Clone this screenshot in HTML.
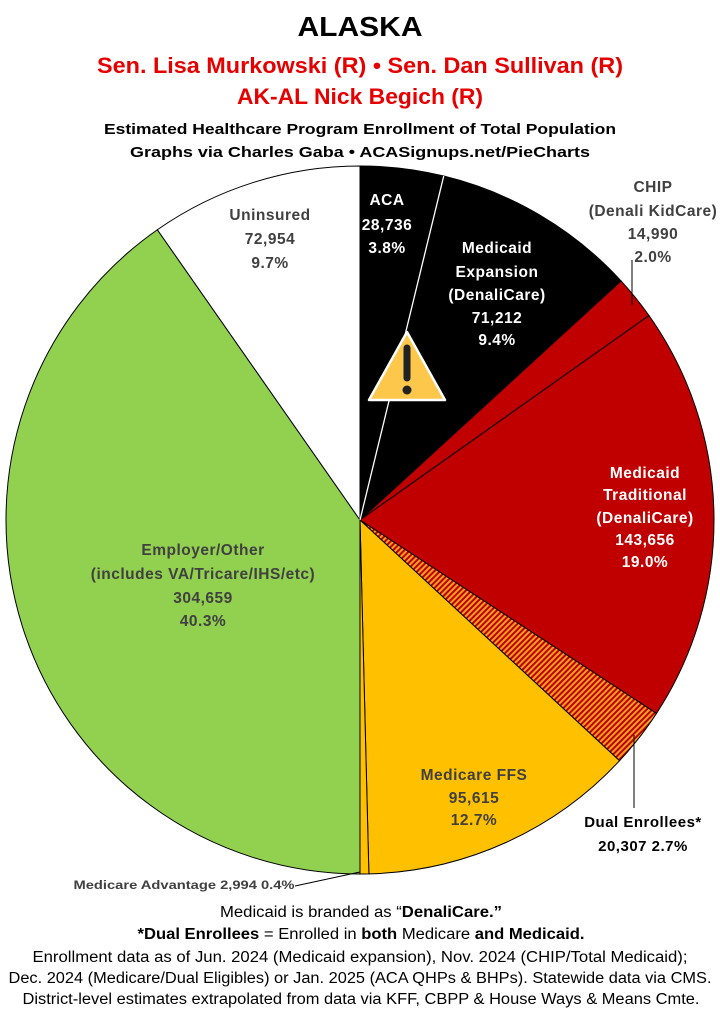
<!DOCTYPE html>
<html><head><meta charset="utf-8"><style>
html,body{margin:0;padding:0;background:#fff}
svg{display:block}
text{font-family:"Liberation Sans",sans-serif;font-weight:bold}
.l text{letter-spacing:0.5px}
</style></head><body>
<svg id="s" width="720" height="1010" viewBox="0 0 720 1010" xmlns="http://www.w3.org/2000/svg">
<defs>
<pattern id="h" patternUnits="userSpaceOnUse" width="4" height="4" patternTransform="rotate(45)">
<rect width="4" height="4" fill="#c00000"/><rect width="2" height="4" fill="#f5a020"/>
</pattern>
</defs>
<g id="pie"></g>
<g text-anchor="middle">
<text x="360" y="36" font-size="28" fill="#000" textLength="125" lengthAdjust="spacingAndGlyphs">ALASKA</text>
<text x="360" y="73" font-size="22" fill="#e60000" textLength="526" lengthAdjust="spacingAndGlyphs">Sen. Lisa Murkowski (R) • Sen. Dan Sullivan (R)</text>
<text x="360" y="104" font-size="22" fill="#e60000" textLength="246" lengthAdjust="spacingAndGlyphs">AK-AL Nick Begich (R)</text>
<text x="360" y="134" font-size="15" fill="#000" textLength="512" lengthAdjust="spacingAndGlyphs">Estimated Healthcare Program Enrollment of Total Population</text>
<text x="360" y="157" font-size="15" fill="#000" textLength="460" lengthAdjust="spacingAndGlyphs">Graphs via Charles Gaba  •  ACASignups.net/PieCharts</text>

<g class="l" font-size="15.5" fill="#404040">
<text x="270" y="220">Uninsured</text><text x="270" y="244">72,954</text><text x="270" y="268">9.7%</text>
<text x="653" y="192">CHIP</text><text x="653" y="216">(Denali KidCare)</text><text x="653" y="239">14,990</text><text x="653" y="262">2.0%</text>
<text x="203" y="555">Employer/Other</text><text x="203" y="579">(includes VA/Tricare/IHS/etc)</text><text x="203" y="603">304,659</text><text x="203" y="626">40.3%</text>
<text x="474" y="780">Medicare FFS</text><text x="474" y="803">95,615</text><text x="474" y="825">12.7%</text>
</g>
<g class="l" font-size="15.5" fill="#fff">
<text x="387" y="205">ACA</text><text x="387" y="230">28,736</text><text x="387" y="253">3.8%</text>
<text x="497" y="253">Medicaid</text><text x="497" y="277">Expansion</text><text x="497" y="300">(DenaliCare)</text><text x="497" y="323">71,212</text><text x="497" y="345">9.4%</text>
<text x="645" y="478">Medicaid</text><text x="645" y="500">Traditional</text><text x="645" y="523">(DenaliCare)</text><text x="645" y="545">143,656</text><text x="645" y="567">19.0%</text>
</g>
<g class="l" font-size="15" fill="#000">
<text x="643" y="827">Dual Enrollees*</text><text x="643" y="851">20,307 2.7%</text>
</g>
<text x="184" y="889" font-size="12" fill="#404040" textLength="221" lengthAdjust="spacingAndGlyphs">Medicare Advantage 2,994 0.4%</text>
<g font-size="15.5" fill="#000">
<text x="361" y="917" style="font-weight:normal" textLength="282" lengthAdjust="spacingAndGlyphs">Medicaid is branded as “<tspan font-weight="bold">DenaliCare.”</tspan></text>
<text x="361" y="939" style="font-weight:normal" textLength="447" lengthAdjust="spacingAndGlyphs"><tspan font-weight="bold">*Dual Enrollees</tspan> = Enrolled in <tspan font-weight="bold">both</tspan> Medicare <tspan font-weight="bold">and Medicaid.</tspan></text>
<text x="360" y="962" style="font-weight:normal" textLength="655" lengthAdjust="spacingAndGlyphs">Enrollment data as of Jun. 2024 (Medicaid expansion), Nov. 2024 (CHIP/Total Medicaid);</text>
<text x="360" y="983" style="font-weight:normal" textLength="703" lengthAdjust="spacingAndGlyphs">Dec. 2024 (Medicare/Dual Eligibles) or Jan. 2025 (ACA QHPs &amp; BHPs). Statewide data via CMS.</text>
<text x="361" y="1004" style="font-weight:normal" textLength="677" lengthAdjust="spacingAndGlyphs">District-level estimates extrapolated from data via KFF, CBPP &amp; House Ways &amp; Means Cmte.</text>
</g>
</g>
<line x1="632" y1="260" x2="632" y2="305" stroke="#000" stroke-width="1"/>
<line x1="634" y1="735" x2="634" y2="808" stroke="#000" stroke-width="1"/>
<line x1="295" y1="886" x2="360" y2="872" stroke="#000" stroke-width="1"/>
<g transform="translate(407,370)">
<path d="M0,-38 L38,30 L-38,30 Z" fill="#fcc74a" stroke="#fff" stroke-width="2.5" stroke-linejoin="round"/>
<line x1="0" y1="-22" x2="0" y2="8" stroke="#222" stroke-width="7" stroke-linecap="round"/>
<circle cx="0" cy="20" r="4.5" fill="#222"/>
</g>
</svg>
<script>
var cx=360,cy=520,r=354;
var sl=[[3.8,"#000"],[9.4,"#000"],[2.0,"#c00000"],[19.0,"#c00000"],[2.7,"url(#h)"],[12.7,"#ffc000"],[0.4,"#ffc000"],[40.3,"#92d050"],[9.7,"#fff"]];
var g=document.getElementById("pie"),a=0,h="";
function pt(p){var t=p/100*2*Math.PI;return [cx+r*Math.sin(t),cy-r*Math.cos(t)];}
for(var i=0;i<sl.length;i++){var s=a,e=a+sl[i][0];var p1=pt(s),p2=pt(e);
var large=sl[i][0]>50?1:0;
h+='<path d="M'+cx+','+cy+' L'+p1[0]+','+p1[1]+' A'+r+','+r+' 0 '+large+' 1 '+p2[0]+','+p2[1]+' Z" fill="'+sl[i][1]+'" stroke="#000" stroke-width="1"/>';
a=e;}
var q=pt(3.8);h+='<line x1="'+cx+'" y1="'+cy+'" x2="'+q[0]+'" y2="'+q[1]+'" stroke="#fff" stroke-width="1.3"/>';
g.innerHTML=h;
</script>
</body></html>
